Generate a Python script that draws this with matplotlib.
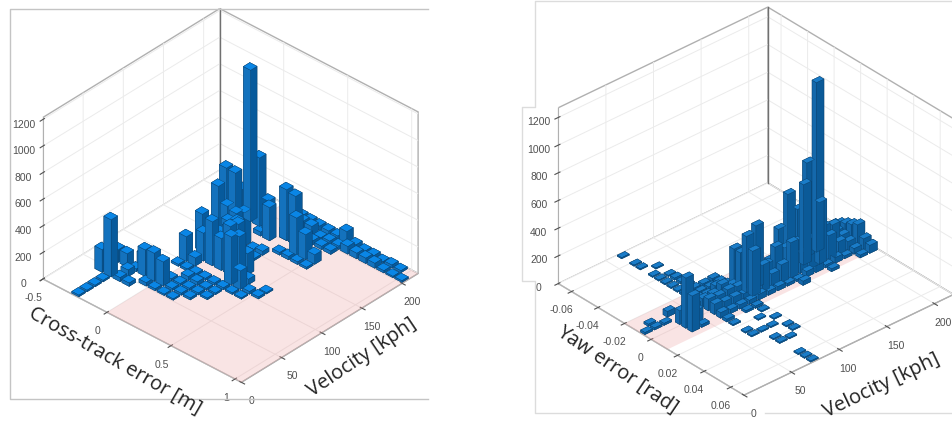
import numpy as np
import matplotlib
matplotlib.use('Agg')
import matplotlib.pyplot as plt
from matplotlib.lines import Line2D
from mpl_toolkits.mplot3d.art3d import Poly3DCollection

W, H = 953, 421

vel_edges = np.linspace(0, 220, 23)
left_x_edges = np.linspace(-0.5, 1.05, 23)
right_x_edges = np.linspace(-0.07, 0.07, 31)

# cross-track histogram, one line per velocity bin
left_x_bin = [3, 3, 3, 3,
              4, 5, 2, 3,
              4, 6, 7, 8, 9,
              5, 6, 7, 8, 9, 10, 4,
              3, 2, 4,
              7, 8, 9, 10, 11,
              11, 10,
              6, 7, 8, 9, 10, 11, 12, 13,
              6, 7, 8, 9, 11, 12, 13, 14,
              8, 10, 11, 7, 9, 14,
              10, 12, 6, 7, 8, 9, 11,
              9, 10, 6, 8,
              9, 10, 7, 8,
              6, 7, 8, 6,
              9, 10, 11, 12, 13, 14,
              6, 8, 9, 10, 11, 12, 13, 14,
              6, 7, 8, 10, 11,
              10, 11, 12, 13, 14,
              9, 10, 11, 12, 13, 14, 15, 16, 17, 18, 19, 20,
              9, 10, 11, 12, 13, 14, 15, 16, 17, 18, 19, 20, 21]
left_v_bin = [0, 1, 2, 3,
              4, 4, 4, 4,
              5, 5, 5, 5, 5,
              6, 6, 6, 6, 6, 6, 6,
              6, 6, 7,
              7, 7, 7, 7, 7,
              8, 8,
              9, 9, 9, 9, 9, 9, 9, 9,
              10, 10, 8, 8, 10, 10, 10, 10,
              11, 11, 11, 11, 11, 11,
              12, 11, 12, 12, 12, 12, 12,
              13, 13, 13, 13,
              14, 14, 14, 14,
              14, 15, 15, 15,
              15, 15, 16, 16, 16, 16,
              17, 17, 17, 18, 18, 17, 17, 17,
              18, 18, 18, 18, 18,
              19, 19, 19, 19, 19,
              21, 21, 21, 21, 21, 21, 21, 21, 21, 21, 21, 21,
              20, 20, 20, 20, 20, 20, 20, 20, 20, 20, 20, 20, 20]
left_count = [12, 12, 12, 12,
              30, 25, 170, 430,
              50, 25, 15, 10, 10,
              200, 210, 180, 15, 15, 15, 20,
              100, 95, 90,
              15, 15, 15, 15, 12,
              12, 12,
              15, 15, 15, 15, 15, 15, 12, 10,
              185, 60, 30, 25, 360, 140, 20, 15,
              330, 365, 325, 210, 240, 10,
              345, 40, 280, 190, 210, 280, 160,
              290, 60, 120, 260,
              20, 15, 300, 280,
              415, 512, 250, 515,
              10, 30, 20, 25, 20, 15,
              280, 30, 250, 70, 60, 277, 187, 72,
              1140, 515, 225, 382, 367,
              40, 35, 30, 25, 25,
              37, 35, 32, 30, 28, 97, 32, 20, 22, 12, 22, 15,
              60, 70, 67, 17, 27, 25, 57, 42, 40, 37, 17, 10, 12]

# yaw error histogram, one line per velocity bin
right_x_bin = [13, 12, 13, 13, 12, 14, 15, 16, 15, 14, 12, 13, 16, 11, 12, 13, 14, 15, 16, 17,
               0, 2, 3, 5, 6, 7, 8, 9, 10, 11, 12, 13, 14, 15, 16, 18, 20, 21,
               4, 6, 7, 8, 9, 10, 11, 12, 13, 14, 15, 16, 17, 21, 23, 27, 28, 29, 24,
               10, 11, 12, 13, 14, 15, 16, 17, 19, 21, 24,
               10, 11, 12, 13, 14, 15, 16, 17, 18, 20, 22, 23,
               12, 13, 14, 15, 16,
               13, 14, 15, 16, 12,
               13, 14, 15, 16, 12,
               13, 14, 15, 16, 17,
               13, 14, 15, 16, 12,
               13, 14, 15, 16, 12,
               13, 14, 15, 16, 17,
               13, 14, 15, 16,
               13, 14, 15, 16,
               13, 14, 15, 16, 17,
               11, 12, 13, 14, 15, 16, 17]
right_v_bin = [0, 1, 1, 2, 3, 3, 3, 3, 4, 4, 5, 5, 4, 6, 6, 6, 6, 6, 6, 6,
               6, 6, 6, 6, 6, 6, 6, 6, 6, 6, 7, 7, 7, 7, 7, 6, 6, 6,
               7, 7, 7, 7, 7, 7, 7, 8, 8, 8, 8, 8, 8, 7, 7, 7, 7, 7, 8,
               8, 8, 9, 9, 9, 9, 9, 9, 8, 8, 7,
               9, 9, 10, 10, 10, 10, 10, 9, 9, 9, 9, 9,
               11, 11, 11, 11, 11,
               12, 12, 12, 12, 12,
               13, 13, 13, 13, 13,
               14, 14, 14, 14, 14,
               15, 15, 15, 15, 15,
               16, 16, 16, 16, 16,
               17, 17, 17, 17, 17,
               18, 18, 18, 18,
               19, 19, 19, 19,
               20, 20, 20, 20, 20,
               21, 21, 21, 21, 21, 21, 21]
right_count = [15, 15, 15, 15, 40, 100, 363, 260, 95, 60, 30, 50, 20, 20, 40, 60, 85, 75, 40, 20,
               8, 8, 8, 8, 8, 8, 8, 8, 15, 20, 30, 60, 75, 60, 30, 8, 8, 8,
               8, 8, 15, 15, 20, 20, 25, 60, 95, 85, 60, 30, 15, 8, 8, 8, 8, 8, 8,
               20, 25, 40, 60, 75, 50, 30, 15, 8, 8, 8,
               25, 30, 260, 260, 405, 325, 40, 15, 8, 8, 8, 8,
               30, 160, 448, 190, 30,
               85, 138, 95, 30, 30,
               106, 228, 127, 20, 40,
               297, 190, 254, 15, 30,
               516, 197, 142, 40, 30,
               375, 580, 216, 50, 40,
               677, 160, 445, 20, 20,
               1225, 212, 173, 40,
               127, 190, 95, 20,
               85, 83, 64, 40, 20,
               46, 80, 106, 127, 152, 78, 58]

dark_edge = '#0a3e68'

plt.rcParams['font.family'] = ['Liberation Sans', 'DejaVu Sans']
plt.rcParams['grid.color'] = '#ebebeb'
plt.rcParams['grid.linewidth'] = 0.7

fig = plt.figure(figsize=(W / 100, H / 100), dpi=100, facecolor='white')


def draw_panel(center, side, elev, azim, box, z_max, x_edges, x_bin, v_bin, count,
               x_ticks, x_labels, pink, fill, faces):
    left = (center[0] - side / 2) / W
    bottom = (H - center[1] - side / 2) / H
    ax = fig.add_axes([left, bottom, side / W, side / H], projection='3d',
                      proj_type='ortho', computed_zorder=False)
    ax.view_init(elev=elev, azim=azim)
    ax.set_box_aspect(box)
    ax.patch.set_alpha(0)
    ax.set_xlim(x_edges[0], x_edges[-1], view_margin=0)
    ax.set_ylim(0, 220, view_margin=0)
    ax.set_zlim(0, z_max, view_margin=0)

    floor = Poly3DCollection([[(pink[0], 0, 0), (pink[1], 0, 0), (pink[1], 220, 0), (pink[0], 220, 0)]],
                             facecolor=(0.93, 0.62, 0.62, 0.28), edgecolor='none', zorder=1)
    ax.add_collection3d(floor)
    ax.plot([x_edges[0]] * 2, [220, 220], [0, z_max], color='#707070', lw=1, zorder=0.5)

    x_bin = np.array(x_bin)
    v_bin = np.array(v_bin)
    count = np.array(count, dtype=float)
    x_w = x_edges[1] - x_edges[0]
    v_w = vel_edges[1] - vel_edges[0]
    x_pos = x_edges[x_bin] + x_w * (1 - fill) / 2
    v_pos = vel_edges[v_bin] + v_w * 0.1
    # bar3d face order: -z, +z, -y, +y, -x, +x
    top, side_l, side_r = faces
    colors = [side_r, top, side_l, side_l, side_r, side_r] * len(count)
    ax.bar3d(x_pos, v_pos, np.zeros(len(count)), x_w * fill, v_w * 0.8, count,
             color=colors, shade=False, edgecolor=dark_edge, linewidth=0.25, zorder=2)

    ax.set_xticks(x_ticks)
    ax.set_xticklabels(x_labels)
    ax.set_yticks([0, 50, 100, 150, 200])
    ax.set_zticks([0, 200, 400, 600, 800, 1000, 1200])
    ax.tick_params(axis='both', labelsize=7.5, labelcolor='#505050', colors='#505050', pad=0)
    for axis in (ax.xaxis, ax.yaxis, ax.zaxis):
        axis.set_pane_color((1, 1, 1, 1))
        axis.pane.set_edgecolor('#b0b0b0')
        axis.line.set_color('#b0b0b0')
    ax.zaxis.set_ticks_position('lower')
    return ax


draw_panel((225, 201), 411, 34.5, -47.4, (273.6, 265, 199), 1215, left_x_edges,
           left_x_bin, left_v_bin, left_count, [-0.5, 0, 0.5, 1], ['-0.5', '0', '0.5', '1'],
           (0, 1.05), 0.8, ('#0a86e6', '#1472bd', '#075a9c'))
draw_panel((750, 207), 434.2, 32.5, -41.8, (282.5, 285, 211.4), 1270, right_x_edges,
           right_x_bin, right_v_bin, right_count,
           [-0.06, -0.04, -0.02, 0, 0.02, 0.04, 0.06],
           ['-0.06', '-0.04', '-0.02', '0', '0.02', '0.04', '0.06'],
           (-0.02, 0.0125), 0.7, ('#1a7cc8', '#1468ab', '#0b5a98'))

label_font = ['Open Sans', 'DejaVu Sans']
fig.text(115 / W, 1 - 361 / H, 'Cross-track error [m]', rotation=-30, fontsize=14.5, color='#222222',
         ha='center', va='center', family=label_font, rotation_mode='anchor')
fig.text(362 / W, 1 - 358 / H, 'Velocity [kph]', rotation=33.8, fontsize=14.5, color='#222222',
         ha='center', va='center', family=label_font, rotation_mode='anchor')
fig.text(617 / W, 1 - 370 / H, 'Yaw error [rad]', rotation=-34, fontsize=14.5, color='#222222',
         ha='center', va='center', family=label_font, rotation_mode='anchor')
fig.text(882 / W, 1 - 386 / H, 'Velocity [kph]', rotation=25.6, fontsize=14.5, color='#222222',
         ha='center', va='center', family=label_font, rotation_mode='anchor')


def frame(xs, ys, color):
    fig.add_artist(Line2D(np.array(xs) / W, 1 - np.array(ys) / H, color=color, lw=1))


frame([428, 10, 10, 428], [9, 9, 399, 399], '#c4c4c4')
frame([953, 535, 535, 522, 522, 535, 535, 750], [1, 1, 107, 107, 281, 281, 413, 413], '#dcdcdc')
frame([765, 953], [413, 413], '#dcdcdc')

fig.savefig('out.png', dpi=100)
